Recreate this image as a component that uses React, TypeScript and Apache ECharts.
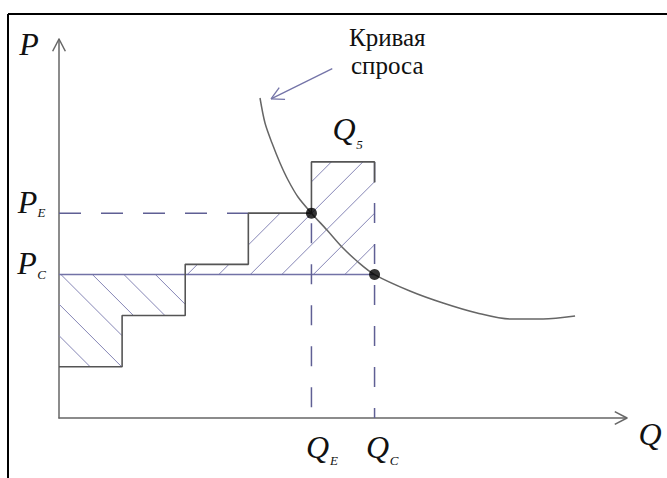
import React, { useEffect, useRef } from 'react';
import * as echarts from 'echarts';

// ---------- data (units of Q and P) ----------
const Q_MAX = 9;
const P_MAX = 7.4;
const stepBounds = [0, 1, 2, 3, 4, 5]; // Q boundaries of the bid steps
const stepPrices = [1, 2, 3, 4, 5]; // bid price of each step
const P_C = 2.8;
const P_E = 4;
const Q_E = 4;
const Q_C = 5;
const Q_5_MID = 4.5;
const boxEdgeSolidTo = 4.6;
const demandQ = [3.185, 3.264, 3.375, 3.502, 3.629, 3.787, 4.0, 4.246, 4.484, 4.738, 5.0, 5.56, 6.085, 6.624, 7.147, 7.67, 8.177];
const demandP = [6.248, 5.76, 5.369, 4.979, 4.647, 4.315, 4.0, 3.67, 3.338, 3.046, 2.8, 2.48, 2.245, 2.05, 1.933, 1.933, 1.991];
const captionLines = ['Кривая', 'спроса'];
const captionArrowFrom = [4.33, 6.82];
const captionArrowTo = [3.36, 6.23];
const labelText = ['P', 'P', 'P', 'Q', 'Q', 'Q', 'Q'];
const labelSub = ['', 'E', 'C', 'E', 'C', '', '5'];
const labelAnchors = [
  [0, P_MAX],
  [0, P_E],
  [0, P_C],
  [Q_E, 0],
  [Q_C, 0],
  [Q_MAX, 0],
  [Q_5_MID, 5],
];

// ---------- derived geometry ----------
const staircase: number[][] = [];
stepPrices.forEach((p, i) => {
  staircase.push([stepBounds[i], p]);
  staircase.push([stepBounds[i + 1], p]);
});
staircase.push([stepBounds[stepBounds.length - 1], boxEdgeSolidTo]);

// region below P_C (steps priced under P_C)
const lowIdx = stepPrices.map((p, i) => i).filter((i) => stepPrices[i] < P_C);
const lowRegion: number[][] = [[stepBounds[0], P_C], [stepBounds[lowIdx[lowIdx.length - 1] + 1], P_C]];
for (let k = lowIdx.length - 1; k >= 0; k--) {
  const i = lowIdx[k];
  lowRegion.push([stepBounds[i + 1], stepPrices[i]]);
  lowRegion.push([stepBounds[i], stepPrices[i]]);
}
// region above P_C (steps priced over P_C)
const highIdx = stepPrices.map((p, i) => i).filter((i) => stepPrices[i] > P_C);
const highRegion: number[][] = [[stepBounds[highIdx[0]], P_C]];
highIdx.forEach((i) => {
  highRegion.push([stepBounds[i], stepPrices[i]]);
  highRegion.push([stepBounds[i + 1], stepPrices[i]]);
});
highRegion.push([stepBounds[highIdx[highIdx.length - 1] + 1], P_C]);
const hatchRegions = [lowRegion, highRegion];

// ---------- layout / style (not data) ----------
const SERIF = "'Liberation Serif', 'Times New Roman', serif";
const INK = '#111';
const AXIS = '#666';
const STAIR = '#555';
const HATCH = '#8686b6';
const DASH = '#5f5f94';
const labelLayout = [
  { dx: -30, dy: 4.5, sdx: 0, sdy: 0 },
  { dx: -31.5, dy: -11.5, sdx: -17.5, sdy: -0.5 },
  { dx: -32, dy: -11.6, sdx: -17.5, sdy: 0 },
  { dx: 6, dy: 29, sdx: 22.5, sdy: 42 },
  { dx: 3, dy: 29, sdx: 19.5, sdy: 42 },
  { dx: 23, dy: 15.5, sdx: 0, sdy: 0 },
  { dx: 1, dy: -33, sdx: 16.5, sdy: -17 },
];
const hatchNormals = [
  [-1, 1],
  [1, 1],
];
const hatchPhase = [-2, 2];
const HATCH_GAP = 31.5;

function hatchSegments(pts: number[][], n: number[], spacing: number, phase: number) {
  const proj = pts.map((p) => n[0] * p[0] + n[1] * p[1]);
  const lo = Math.min(...proj);
  const hi = Math.max(...proj);
  const c0 = proj[0] + phase;
  const d = [-n[1], n[0]];
  const segs: number[][][] = [];
  for (let k = Math.ceil((lo - c0) / spacing); k <= Math.floor((hi - c0) / spacing); k++) {
    const c = c0 + k * spacing;
    const hits: number[][] = [];
    for (let i = 0; i < pts.length; i++) {
      const j = (i + 1) % pts.length;
      const fa = proj[i] - c;
      const fb = proj[j] - c;
      if (fa < 0 !== fb < 0) {
        const t = fa / (fa - fb);
        hits.push([pts[i][0] + t * (pts[j][0] - pts[i][0]), pts[i][1] + t * (pts[j][1] - pts[i][1])]);
      }
    }
    hits.sort((u, v) => u[0] * d[0] + u[1] * d[1] - (v[0] * d[0] + v[1] * d[1]));
    for (let m = 0; m + 1 < hits.length; m += 2) segs.push([hits[m], hits[m + 1]]);
  }
  return segs;
}

function arrowHead(tip: number[], from: number[], len: number, half: number, color: string, width: number) {
  const ang = Math.atan2(from[1] - tip[1], from[0] - tip[0]);
  return [-half, half].map((h) => ({
    type: 'line',
    shape: {
      x1: tip[0],
      y1: tip[1],
      x2: tip[0] + len * Math.cos(ang + h),
      y2: tip[1] + len * Math.sin(ang + h),
    },
    style: { stroke: color, lineWidth: width },
  }));
}

function txt(text: string, x: number, y: number, size: number, italic: boolean) {
  return {
    type: 'text',
    style: {
      text,
      x,
      y,
      align: 'center',
      verticalAlign: 'middle',
      fontFamily: SERIF,
      fontSize: size,
      fontStyle: italic ? 'italic' : 'normal',
      fill: INK,
    },
  };
}

const option: any = {
  animation: false,
  grid: { left: 59, top: 39, width: 568, height: 379 },
  xAxis: {
    type: 'value',
    min: 0,
    max: Q_MAX,
    axisLine: { show: true, onZero: false, lineStyle: { color: AXIS, width: 1.5 } },
    axisTick: { show: false },
    axisLabel: { show: false },
    splitLine: { show: false },
  },
  yAxis: {
    type: 'value',
    min: 0,
    max: P_MAX,
    axisLine: { show: true, onZero: false, lineStyle: { color: AXIS, width: 1.5 } },
    axisTick: { show: false },
    axisLabel: { show: false },
    splitLine: { show: false },
  },
  graphic: [
    { type: 'line', shape: { x1: 8, y1: 14, x2: 667, y2: 14 }, style: { stroke: '#000', lineWidth: 2 } },
    { type: 'line', shape: { x1: 8, y1: 14, x2: 8, y2: 478 }, style: { stroke: '#000', lineWidth: 2 } },
  ],
  series: [
    {
      type: 'custom',
      name: 'hatch',
      z: 1,
      silent: true,
      data: hatchRegions.map((r) => r[0]),
      encode: { x: 0, y: 1 },
      renderItem: (params: any, api: any) => {
        const i = params.dataIndex;
        const pts = hatchRegions[i].map((v) => api.coord(v));
        const segs = hatchSegments(pts, hatchNormals[i], HATCH_GAP, hatchPhase[i]);
        return {
          type: 'group',
          children: segs.map((s) => ({
            type: 'line',
            shape: { x1: s[0][0], y1: s[0][1], x2: s[1][0], y2: s[1][1] },
            style: { stroke: HATCH, lineWidth: 1 },
          })),
        };
      },
    },
    {
      type: 'line',
      name: 'P_C',
      z: 2,
      symbol: 'none',
      data: [
        [0, P_C],
        [Q_C, P_C],
      ],
      lineStyle: { color: '#7272a6', width: 1.5 },
    },
    {
      type: 'line',
      name: 'P_E dashed',
      z: 2,
      symbol: 'none',
      data: [
        [0, P_E],
        [stepBounds[3], P_E],
      ],
      lineStyle: { color: DASH, width: 1.5, type: [22, 20] },
    },
    {
      type: 'line',
      name: 'Q_E dashed',
      z: 2,
      symbol: 'none',
      data: [
        [Q_E, P_E],
        [Q_E, 0],
      ],
      lineStyle: { color: DASH, width: 1.5, type: [20, 21], dashOffset: 31 },
    },
    {
      type: 'line',
      name: 'Q_C dashed',
      z: 2,
      symbol: 'none',
      data: [
        [Q_C, stepPrices[stepPrices.length - 1]],
        [Q_C, 0],
      ],
      lineStyle: { color: DASH, width: 1.5, type: [20, 21] },
    },
    {
      type: 'line',
      name: 'staircase',
      z: 3,
      symbol: 'none',
      data: staircase,
      lineStyle: { color: STAIR, width: 1.6 },
    },
    {
      type: 'line',
      name: 'demand',
      z: 3,
      symbol: 'none',
      smooth: 0.3,
      data: demandQ.map((q, i) => [q, demandP[i]]),
      lineStyle: { color: '#666', width: 1.5 },
    },
    {
      type: 'scatter',
      name: 'equilibria',
      z: 5,
      symbol: 'circle',
      symbolSize: 11,
      itemStyle: { color: '#000' },
      data: [
        [Q_E, P_E],
        [Q_C, P_C],
      ],
    },
    {
      type: 'custom',
      name: 'axis arrows',
      z: 4,
      silent: true,
      data: [
        [0, P_MAX, 0, 0],
        [Q_MAX, 0, 0, 0],
      ],
      encode: { x: 0, y: 1 },
      renderItem: (params: any, api: any) => {
        const tip = api.coord([api.value(0), api.value(1)]);
        const from = api.coord([api.value(2), api.value(3)]);
        return { type: 'group', children: arrowHead(tip, from, 13.8, 0.48, AXIS, 1.5) };
      },
    },
    {
      type: 'custom',
      name: 'caption',
      z: 6,
      silent: true,
      data: [[captionArrowTo[0], captionArrowTo[1], captionArrowFrom[0], captionArrowFrom[1]]],
      encode: { x: 0, y: 1 },
      renderItem: (params: any, api: any) => {
        const tip = api.coord([api.value(0), api.value(1)]);
        const from = api.coord([api.value(2), api.value(3)]);
        const children: any[] = [
          {
            type: 'line',
            shape: { x1: from[0], y1: from[1], x2: tip[0], y2: tip[1] },
            style: { stroke: '#7474a8', lineWidth: 1.3 },
          },
          ...arrowHead(tip, from, 14, 0.49, '#7474a8', 1.3),
        ];
        captionLines.forEach((t, k) => {
          children.push(txt(t, from[0] + 55, from[1] - 31.3 + k * 28, 25, false));
        });
        return { type: 'group', children };
      },
    },
    {
      type: 'custom',
      name: 'labels',
      z: 6,
      silent: true,
      data: labelAnchors,
      encode: { x: 0, y: 1 },
      renderItem: (params: any, api: any) => {
        const i = params.dataIndex;
        const a = api.coord([api.value(0), api.value(1)]);
        const L = labelLayout[i];
        const children: any[] = [txt(labelText[i], a[0] + L.dx, a[1] + L.dy, 32, true)];
        if (labelSub[i]) children.push(txt(labelSub[i], a[0] + L.sdx, a[1] + L.sdy, 13, true));
        return { type: 'group', children };
      },
    },
  ],
};

export default function App() {
  const ref = useRef<HTMLDivElement>(null);
  useEffect(() => {
    document.body.style.margin = '0';
    const chart = echarts.init(ref.current!, null, { renderer: 'svg' });
    chart.setOption(option);
    return () => chart.dispose();
  }, []);
  return <div ref={ref} style={{ width: 667, height: 478 }} />;
}
